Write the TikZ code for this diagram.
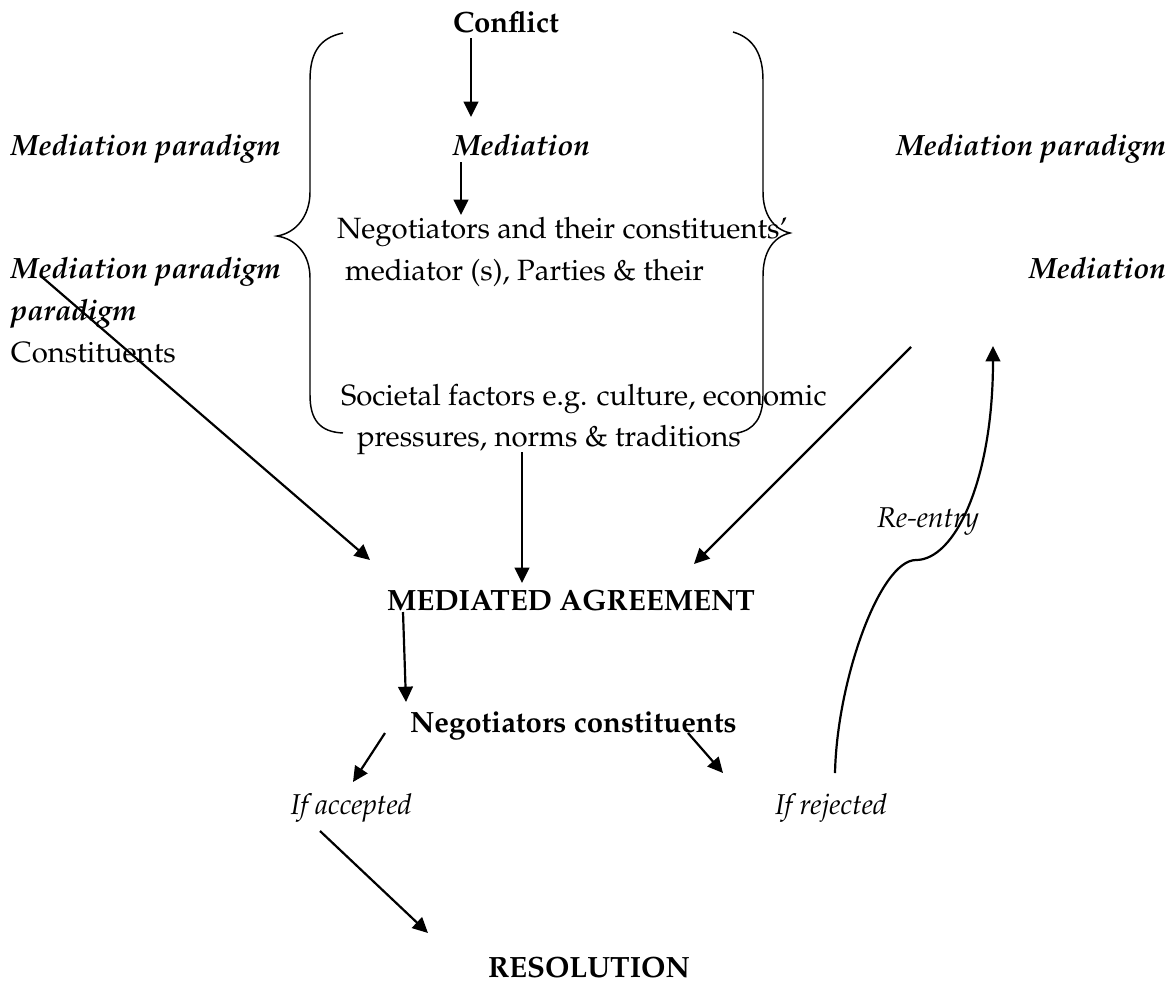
\documentclass[tikz,border=0pt]{standalone}
\usepackage[T1]{fontenc}
\renewcommand{\rmdefault}{ppl}
\usetikzlibrary{arrows.meta}
\begin{document}
\begin{tikzpicture}[x=0.75pt,y=-0.75pt,
  txt/.style={inner sep=0pt,outer sep=0pt,font=\fontsize{22}{30}\selectfont},
  bi/.style={txt,font=\fontsize{22}{30}\selectfont\bfseries\itshape},
  bd/.style={txt,font=\fontsize{22}{30}\selectfont\bfseries},
  it/.style={txt,font=\fontsize{21.5}{30}\selectfont\itshape},
  flow/.style={line width=1.65pt,-{Triangle[length=11.5pt,width=11pt]}},
  brace/.style={line width=1.1pt}]
\useasboundingbox (0,0) rectangle (1174,983);

% central column
\node[bd,anchor=base west] (conflict) at (453,32) {Conflict};
\node[bi,anchor=base west] (mediation) at (453,155) {Mediation};
\node[txt,anchor=base west] (neg1) at (337,238) {Negotiators and their constituents'};
\node[txt,anchor=base west] (neg2) at (345,280) {mediator (s), Parties \& their};
\node[txt,anchor=base west] (soc1) at (341,405) {Societal factors e.g. culture, economic};
\node[txt,anchor=base west] (soc2) at (357,446) {pressures, norms \& traditions};

% side labels
\node[bi,anchor=base west] (lpar1) at (11,155) {Mediation paradigm};
\node[bi,anchor=base west] (lpar2) at (11,278) {Mediation paradigm};
\node[bi,anchor=base west] (lpar3) at (11,320) {paradigm};
\node[txt,anchor=base west] (lcons) at (11,362) {Constituents};
\node[bi,anchor=base east] (rpar1) at (1166,155) {Mediation paradigm};
\node[bi,anchor=base east] (rmed) at (1166,278) {Mediation};

% lower part
\node[bd,anchor=base west] (agree) at (387,610) {MEDIATED AGREEMENT};
\node[bd,anchor=base west] (negcons) at (410,732) {Negotiators constituents};
\node[it,anchor=base east] (acc) at (412,814) {If accepted};
\node[it,anchor=base west] (rej) at (775,814) {If rejected};
\node[it,anchor=base west] (reentry) at (877,527) {Re-entry};
\node[bd,anchor=base west] (resol) at (488,977) {RESOLUTION};

% braces round the mediation block
\draw[brace] (343,33) .. controls (318,38) and (310,55) .. (310,80)
  -- (310,192) .. controls (310,216) and (296,233) .. (277,236)
  .. controls (296,239) and (310,254) .. (310,278)
  -- (310,395) .. controls (310,420) and (320,432) .. (343,433);
\draw[brace] (733,32) .. controls (754,38) and (763,55) .. (763,80)
  -- (763,192) .. controls (763,214) and (773,229) .. (790,233)
  .. controls (773,237) and (763,252) .. (763,276)
  -- (763,395) .. controls (763,418) and (754,430) .. (737,433);

% arrow end points
\coordinate (c1) at (471,38);   \coordinate (c2) at (471,117);
\coordinate (m1) at (461,162);  \coordinate (m2) at (461,215);
\coordinate (l1) at (42,277);   \coordinate (l2) at (370,560);
\coordinate (s1) at (522,452);  \coordinate (s2) at (522,583);
\coordinate (r1) at (911,347);  \coordinate (r2) at (694,564);
\coordinate (a1) at (403,612);  \coordinate (a2) at (406,702);
\coordinate (n1) at (385,733);  \coordinate (n2) at (353,782);
\coordinate (n3) at (688,733);  \coordinate (n4) at (723,773);
\coordinate (e1) at (835,773);  \coordinate (e2) at (916,560);
\coordinate (e3) at (993,346);
\coordinate (p1) at (320,831);  \coordinate (p2) at (428,933);

\draw[flow] (c1) -- (c2);
\draw[flow] (m1) -- (m2);
\draw[flow] (l1) -- (l2);
\draw[flow] (s1) -- (s2);
\draw[flow] (r1) -- (r2);
\draw[flow] (a1) -- (a2);
\draw[flow] (n1) -- (n2);
\draw[flow] (n3) -- (n4);
\draw[flow] (e1) .. controls (837,680) and (880,560) .. (e2)
  .. controls (955,560) and (993,480) .. (e3);
\draw[flow] (p1) -- (p2);
\end{tikzpicture}
\end{document}
